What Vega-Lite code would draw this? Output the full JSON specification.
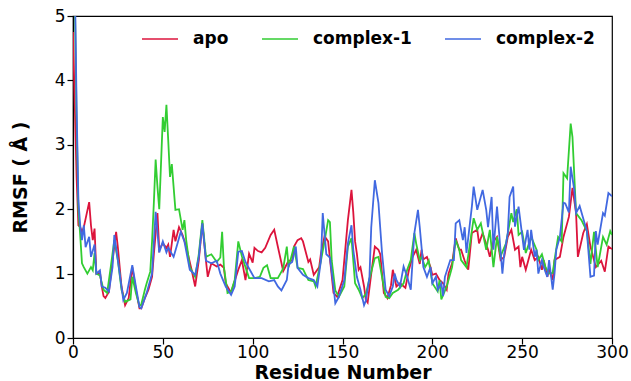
{
  "$schema": "https://vega.github.io/schema/vega-lite/v6.json",
  "width": 539,
  "height": 322,
  "autosize": {"type": "none"},
  "padding": {"left": 73, "top": 16, "right": 19, "bottom": 43},
  "background": "white",
  "config": {"view": {"stroke": "black", "strokeWidth": 1.2}, "font": "DejaVu Sans"},
  "data": {"values": [
{"s":"apo","r":0,"v":4.75},{"s":"apo","r":1,"v":3.6},{"s":"apo","r":2,"v":2.5},{"s":"apo","r":3,"v":1.75},{"s":"apo","r":4,"v":1.72},{"s":"apo","r":5,"v":1.65},{"s":"apo","r":6,"v":1.72},{"s":"apo","r":7,"v":1.85},{"s":"apo","r":9,"v":2.11},{"s":"apo","r":10,"v":1.75},{"s":"apo","r":11,"v":1.52},{"s":"apo","r":12,"v":1.7},{"s":"apo","r":13,"v":1.0},{"s":"apo","r":15,"v":1.02},{"s":"apo","r":16,"v":0.8},{"s":"apo","r":17,"v":0.65},{"s":"apo","r":18,"v":0.62},{"s":"apo","r":20,"v":0.72},{"s":"apo","r":22,"v":1.2},{"s":"apo","r":24,"v":1.65},{"s":"apo","r":25,"v":1.4},{"s":"apo","r":27,"v":0.8},{"s":"apo","r":29,"v":0.51},{"s":"apo","r":31,"v":0.62},{"s":"apo","r":33,"v":1.1},{"s":"apo","r":35,"v":0.75},{"s":"apo","r":37,"v":0.46},{"s":"apo","r":38,"v":0.46},{"s":"apo","r":40,"v":0.62},{"s":"apo","r":42,"v":0.75},{"s":"apo","r":44,"v":0.95},{"s":"apo","r":45,"v":1.3},{"s":"apo","r":47,"v":1.94},{"s":"apo","r":48,"v":1.37},{"s":"apo","r":50,"v":1.47},{"s":"apo","r":52,"v":1.4},{"s":"apo","r":53,"v":1.45},{"s":"apo","r":54,"v":1.26},{"s":"apo","r":56,"v":1.68},{"s":"apo","r":57,"v":1.5},{"s":"apo","r":59,"v":1.72},{"s":"apo","r":61,"v":1.6},{"s":"apo","r":63,"v":1.42},{"s":"apo","r":66,"v":1.06},{"s":"apo","r":68,"v":0.8},{"s":"apo","r":70,"v":1.2},{"s":"apo","r":72,"v":1.78},{"s":"apo","r":74,"v":1.2},{"s":"apo","r":75,"v":0.95},{"s":"apo","r":77,"v":1.16},{"s":"apo","r":80,"v":1.11},{"s":"apo","r":82,"v":1.14},{"s":"apo","r":84,"v":1.09},{"s":"apo","r":85,"v":0.85},{"s":"apo","r":88,"v":0.7},{"s":"apo","r":89,"v":0.8},{"s":"apo","r":92,"v":1.06},{"s":"apo","r":94,"v":1.21},{"s":"apo","r":96,"v":0.9},{"s":"apo","r":98,"v":1.31},{"s":"apo","r":100,"v":1.17},{"s":"apo","r":101,"v":1.4},{"s":"apo","r":103,"v":1.35},{"s":"apo","r":105,"v":1.33},{"s":"apo","r":107,"v":1.4},{"s":"apo","r":110,"v":1.6},{"s":"apo","r":112,"v":1.68},{"s":"apo","r":114,"v":1.42},{"s":"apo","r":117,"v":1.04},{"s":"apo","r":120,"v":1.2},{"s":"apo","r":122,"v":1.2},{"s":"apo","r":123,"v":1.42},{"s":"apo","r":125,"v":1.52},{"s":"apo","r":127,"v":1.55},{"s":"apo","r":128,"v":1.5},{"s":"apo","r":131,"v":1.18},{"s":"apo","r":132,"v":1.22},{"s":"apo","r":134,"v":0.98},{"s":"apo","r":137,"v":1.1},{"s":"apo","r":138,"v":1.31},{"s":"apo","r":140,"v":1.58},{"s":"apo","r":142,"v":1.5},{"s":"apo","r":145,"v":0.7},{"s":"apo","r":147,"v":0.64},{"s":"apo","r":150,"v":0.9},{"s":"apo","r":153,"v":1.83},{"s":"apo","r":155,"v":2.3},{"s":"apo","r":156,"v":1.95},{"s":"apo","r":157,"v":1.5},{"s":"apo","r":158,"v":1.31},{"s":"apo","r":159,"v":1.06},{"s":"apo","r":160,"v":1.1},{"s":"apo","r":162,"v":0.8},{"s":"apo","r":163,"v":0.59},{"s":"apo","r":164,"v":0.55},{"s":"apo","r":166,"v":1.0},{"s":"apo","r":168,"v":1.42},{"s":"apo","r":170,"v":1.37},{"s":"apo","r":171,"v":1.3},{"s":"apo","r":173,"v":0.7},{"s":"apo","r":175,"v":0.62},{"s":"apo","r":177,"v":0.82},{"s":"apo","r":178,"v":1.06},{"s":"apo","r":180,"v":0.8},{"s":"apo","r":182,"v":0.85},{"s":"apo","r":185,"v":0.78},{"s":"apo","r":187,"v":1.06},{"s":"apo","r":189,"v":1.26},{"s":"apo","r":191,"v":1.37},{"s":"apo","r":193,"v":1.15},{"s":"apo","r":194,"v":1.37},{"s":"apo","r":195,"v":1.22},{"s":"apo","r":197,"v":1.26},{"s":"apo","r":199,"v":1.1},{"s":"apo","r":200,"v":0.98},{"s":"apo","r":202,"v":1.0},{"s":"apo","r":204,"v":0.9},{"s":"apo","r":206,"v":0.85},{"s":"apo","r":208,"v":0.75},{"s":"apo","r":209,"v":1.0},{"s":"apo","r":211,"v":1.16},{"s":"apo","r":213,"v":1.55},{"s":"apo","r":215,"v":1.37},{"s":"apo","r":216,"v":1.37},{"s":"apo","r":218,"v":1.2},{"s":"apo","r":220,"v":1.06},{"s":"apo","r":222,"v":1.63},{"s":"apo","r":225,"v":1.68},{"s":"apo","r":226,"v":1.47},{"s":"apo","r":228,"v":1.63},{"s":"apo","r":231,"v":1.37},{"s":"apo","r":232,"v":1.26},{"s":"apo","r":234,"v":1.5},{"s":"apo","r":236,"v":1.57},{"s":"apo","r":238,"v":1.21},{"s":"apo","r":240,"v":1.26},{"s":"apo","r":242,"v":1.57},{"s":"apo","r":244,"v":1.68},{"s":"apo","r":246,"v":1.37},{"s":"apo","r":248,"v":1.42},{"s":"apo","r":249,"v":1.1},{"s":"apo","r":250,"v":1.26},{"s":"apo","r":252,"v":1.06},{"s":"apo","r":255,"v":1.37},{"s":"apo","r":257,"v":1.21},{"s":"apo","r":259,"v":1.26},{"s":"apo","r":261,"v":1.06},{"s":"apo","r":262,"v":1.21},{"s":"apo","r":264,"v":0.95},{"s":"apo","r":265,"v":1.06},{"s":"apo","r":267,"v":0.9},{"s":"apo","r":268,"v":1.21},{"s":"apo","r":271,"v":1.26},{"s":"apo","r":273,"v":1.57},{"s":"apo","r":276,"v":1.88},{"s":"apo","r":278,"v":2.33},{"s":"apo","r":280,"v":1.94},{"s":"apo","r":281,"v":1.26},{"s":"apo","r":284,"v":1.63},{"s":"apo","r":286,"v":1.77},{"s":"apo","r":288,"v":1.42},{"s":"apo","r":291,"v":1.1},{"s":"apo","r":294,"v":1.2},{"s":"apo","r":296,"v":1.03},{"s":"apo","r":298,"v":1.42},{"s":"apo","r":300,"v":1.38},
{"s":"complex-1","r":0,"v":5.8},{"s":"complex-1","r":1,"v":5.3},{"s":"complex-1","r":2,"v":3.4},{"s":"complex-1","r":3,"v":2.0},{"s":"complex-1","r":4,"v":1.6},{"s":"complex-1","r":5,"v":1.16},{"s":"complex-1","r":6,"v":1.1},{"s":"complex-1","r":8,"v":1.0},{"s":"complex-1","r":9,"v":1.05},{"s":"complex-1","r":10,"v":1.1},{"s":"complex-1","r":11,"v":1.05},{"s":"complex-1","r":12,"v":1.32},{"s":"complex-1","r":13,"v":1.0},{"s":"complex-1","r":15,"v":0.97},{"s":"complex-1","r":17,"v":0.75},{"s":"complex-1","r":19,"v":0.7},{"s":"complex-1","r":21,"v":1.1},{"s":"complex-1","r":23,"v":1.52},{"s":"complex-1","r":25,"v":1.2},{"s":"complex-1","r":27,"v":0.75},{"s":"complex-1","r":29,"v":0.56},{"s":"complex-1","r":32,"v":0.6},{"s":"complex-1","r":33,"v":0.95},{"s":"complex-1","r":35,"v":0.7},{"s":"complex-1","r":37,"v":0.5},{"s":"complex-1","r":38,"v":0.52},{"s":"complex-1","r":40,"v":0.75},{"s":"complex-1","r":41,"v":0.85},{"s":"complex-1","r":43,"v":1.03},{"s":"complex-1","r":44,"v":1.5},{"s":"complex-1","r":45,"v":2.1},{"s":"complex-1","r":46,"v":2.77},{"s":"complex-1","r":47,"v":2.35},{"s":"complex-1","r":48,"v":2.0},{"s":"complex-1","r":50,"v":3.43},{"s":"complex-1","r":51,"v":3.2},{"s":"complex-1","r":52,"v":3.62},{"s":"complex-1","r":53,"v":3.07},{"s":"complex-1","r":54,"v":2.5},{"s":"complex-1","r":55,"v":2.7},{"s":"complex-1","r":57,"v":1.99},{"s":"complex-1","r":59,"v":2.0},{"s":"complex-1","r":61,"v":1.68},{"s":"complex-1","r":62,"v":1.83},{"s":"complex-1","r":63,"v":1.52},{"s":"complex-1","r":65,"v":1.1},{"s":"complex-1","r":68,"v":0.95},{"s":"complex-1","r":70,"v":1.3},{"s":"complex-1","r":72,"v":1.83},{"s":"complex-1","r":74,"v":1.26},{"s":"complex-1","r":77,"v":1.3},{"s":"complex-1","r":80,"v":1.18},{"s":"complex-1","r":82,"v":1.25},{"s":"complex-1","r":83,"v":1.65},{"s":"complex-1","r":84,"v":1.1},{"s":"complex-1","r":86,"v":0.7},{"s":"complex-1","r":88,"v":0.72},{"s":"complex-1","r":90,"v":0.9},{"s":"complex-1","r":92,"v":1.5},{"s":"complex-1","r":94,"v":1.27},{"s":"complex-1","r":98,"v":0.93},{"s":"complex-1","r":101,"v":0.93},{"s":"complex-1","r":104,"v":0.95},{"s":"complex-1","r":106,"v":1.09},{"s":"complex-1","r":108,"v":1.13},{"s":"complex-1","r":110,"v":0.93},{"s":"complex-1","r":114,"v":0.93},{"s":"complex-1","r":117,"v":1.08},{"s":"complex-1","r":119,"v":1.42},{"s":"complex-1","r":120,"v":1.1},{"s":"complex-1","r":123,"v":1.42},{"s":"complex-1","r":125,"v":1.09},{"s":"complex-1","r":128,"v":1.07},{"s":"complex-1","r":131,"v":0.9},{"s":"complex-1","r":134,"v":0.88},{"s":"complex-1","r":135,"v":0.8},{"s":"complex-1","r":138,"v":1.2},{"s":"complex-1","r":140,"v":1.5},{"s":"complex-1","r":142,"v":1.83},{"s":"complex-1","r":143,"v":1.8},{"s":"complex-1","r":144,"v":1.2},{"s":"complex-1","r":146,"v":0.74},{"s":"complex-1","r":148,"v":0.64},{"s":"complex-1","r":151,"v":0.8},{"s":"complex-1","r":153,"v":1.42},{"s":"complex-1","r":155,"v":1.55},{"s":"complex-1","r":157,"v":0.85},{"s":"complex-1","r":159,"v":0.75},{"s":"complex-1","r":161,"v":0.62},{"s":"complex-1","r":163,"v":0.68},{"s":"complex-1","r":165,"v":0.92},{"s":"complex-1","r":168,"v":1.24},{"s":"complex-1","r":170,"v":1.26},{"s":"complex-1","r":172,"v":0.95},{"s":"complex-1","r":174,"v":0.64},{"s":"complex-1","r":176,"v":0.62},{"s":"complex-1","r":178,"v":0.7},{"s":"complex-1","r":181,"v":0.75},{"s":"complex-1","r":184,"v":0.85},{"s":"complex-1","r":186,"v":1.06},{"s":"complex-1","r":188,"v":1.21},{"s":"complex-1","r":190,"v":1.63},{"s":"complex-1","r":191,"v":1.47},{"s":"complex-1","r":193,"v":1.21},{"s":"complex-1","r":194,"v":1.26},{"s":"complex-1","r":196,"v":1.1},{"s":"complex-1","r":198,"v":1.2},{"s":"complex-1","r":200,"v":0.85},{"s":"complex-1","r":203,"v":0.72},{"s":"complex-1","r":204,"v":0.9},{"s":"complex-1","r":205,"v":0.6},{"s":"complex-1","r":208,"v":0.8},{"s":"complex-1","r":211,"v":1.1},{"s":"complex-1","r":213,"v":1.52},{"s":"complex-1","r":215,"v":1.37},{"s":"complex-1","r":216,"v":1.21},{"s":"complex-1","r":219,"v":1.1},{"s":"complex-1","r":221,"v":1.47},{"s":"complex-1","r":223,"v":1.86},{"s":"complex-1","r":225,"v":1.68},{"s":"complex-1","r":227,"v":1.78},{"s":"complex-1","r":230,"v":1.37},{"s":"complex-1","r":232,"v":1.68},{"s":"complex-1","r":234,"v":1.1},{"s":"complex-1","r":236,"v":1.57},{"s":"complex-1","r":238,"v":1.27},{"s":"complex-1","r":241,"v":1.47},{"s":"complex-1","r":244,"v":1.94},{"s":"complex-1","r":245,"v":1.8},{"s":"complex-1","r":247,"v":2.0},{"s":"complex-1","r":248,"v":1.6},{"s":"complex-1","r":250,"v":1.65},{"s":"complex-1","r":252,"v":1.32},{"s":"complex-1","r":255,"v":1.57},{"s":"complex-1","r":258,"v":1.37},{"s":"complex-1","r":259,"v":1.21},{"s":"complex-1","r":261,"v":1.3},{"s":"complex-1","r":263,"v":1.1},{"s":"complex-1","r":265,"v":1.0},{"s":"complex-1","r":267,"v":1.01},{"s":"complex-1","r":268,"v":1.21},{"s":"complex-1","r":270,"v":1.57},{"s":"complex-1","r":272,"v":1.5},{"s":"complex-1","r":273,"v":2.56},{"s":"complex-1","r":275,"v":2.48},{"s":"complex-1","r":277,"v":3.33},{"s":"complex-1","r":278,"v":3.12},{"s":"complex-1","r":280,"v":1.94},{"s":"complex-1","r":283,"v":1.83},{"s":"complex-1","r":286,"v":1.66},{"s":"complex-1","r":288,"v":1.15},{"s":"complex-1","r":290,"v":1.65},{"s":"complex-1","r":292,"v":1.1},{"s":"complex-1","r":295,"v":1.57},{"s":"complex-1","r":297,"v":1.45},{"s":"complex-1","r":299,"v":1.66},{"s":"complex-1","r":300,"v":1.6},
{"s":"complex-2","r":0,"v":6.0},{"s":"complex-2","r":1,"v":5.6},{"s":"complex-2","r":2,"v":3.6},{"s":"complex-2","r":3,"v":2.14},{"s":"complex-2","r":4,"v":1.75},{"s":"complex-2","r":5,"v":1.52},{"s":"complex-2","r":6,"v":1.75},{"s":"complex-2","r":7,"v":1.41},{"s":"complex-2","r":9,"v":1.57},{"s":"complex-2","r":10,"v":1.26},{"s":"complex-2","r":12,"v":1.45},{"s":"complex-2","r":13,"v":1.0},{"s":"complex-2","r":15,"v":1.05},{"s":"complex-2","r":16,"v":0.8},{"s":"complex-2","r":18,"v":0.78},{"s":"complex-2","r":20,"v":0.72},{"s":"complex-2","r":22,"v":1.1},{"s":"complex-2","r":23,"v":1.6},{"s":"complex-2","r":25,"v":1.2},{"s":"complex-2","r":28,"v":0.59},{"s":"complex-2","r":30,"v":0.7},{"s":"complex-2","r":33,"v":1.13},{"s":"complex-2","r":35,"v":0.8},{"s":"complex-2","r":37,"v":0.48},{"s":"complex-2","r":38,"v":0.46},{"s":"complex-2","r":41,"v":0.7},{"s":"complex-2","r":44,"v":1.0},{"s":"complex-2","r":46,"v":1.96},{"s":"complex-2","r":48,"v":1.33},{"s":"complex-2","r":50,"v":1.5},{"s":"complex-2","r":52,"v":1.33},{"s":"complex-2","r":53,"v":1.4},{"s":"complex-2","r":56,"v":1.26},{"s":"complex-2","r":58,"v":1.45},{"s":"complex-2","r":60,"v":1.65},{"s":"complex-2","r":62,"v":1.5},{"s":"complex-2","r":65,"v":1.06},{"s":"complex-2","r":68,"v":0.98},{"s":"complex-2","r":70,"v":1.25},{"s":"complex-2","r":72,"v":1.78},{"s":"complex-2","r":74,"v":1.2},{"s":"complex-2","r":77,"v":1.16},{"s":"complex-2","r":80,"v":1.2},{"s":"complex-2","r":82,"v":1.0},{"s":"complex-2","r":85,"v":0.8},{"s":"complex-2","r":88,"v":0.67},{"s":"complex-2","r":90,"v":0.8},{"s":"complex-2","r":92,"v":1.34},{"s":"complex-2","r":94,"v":1.35},{"s":"complex-2","r":96,"v":1.18},{"s":"complex-2","r":98,"v":1.08},{"s":"complex-2","r":101,"v":0.93},{"s":"complex-2","r":105,"v":0.93},{"s":"complex-2","r":109,"v":0.88},{"s":"complex-2","r":112,"v":0.9},{"s":"complex-2","r":114,"v":0.8},{"s":"complex-2","r":116,"v":0.74},{"s":"complex-2","r":119,"v":0.9},{"s":"complex-2","r":120,"v":1.14},{"s":"complex-2","r":122,"v":1.18},{"s":"complex-2","r":124,"v":1.42},{"s":"complex-2","r":125,"v":1.09},{"s":"complex-2","r":128,"v":0.98},{"s":"complex-2","r":131,"v":0.93},{"s":"complex-2","r":134,"v":0.9},{"s":"complex-2","r":136,"v":0.8},{"s":"complex-2","r":138,"v":1.2},{"s":"complex-2","r":139,"v":1.94},{"s":"complex-2","r":141,"v":1.3},{"s":"complex-2","r":143,"v":1.25},{"s":"complex-2","r":145,"v":0.8},{"s":"complex-2","r":146,"v":0.54},{"s":"complex-2","r":148,"v":0.64},{"s":"complex-2","r":151,"v":0.9},{"s":"complex-2","r":153,"v":1.47},{"s":"complex-2","r":155,"v":1.75},{"s":"complex-2","r":156,"v":1.37},{"s":"complex-2","r":158,"v":0.95},{"s":"complex-2","r":160,"v":0.75},{"s":"complex-2","r":162,"v":0.51},{"s":"complex-2","r":163,"v":0.58},{"s":"complex-2","r":165,"v":0.95},{"s":"complex-2","r":166,"v":1.72},{"s":"complex-2","r":168,"v":2.45},{"s":"complex-2","r":170,"v":2.1},{"s":"complex-2","r":172,"v":1.32},{"s":"complex-2","r":174,"v":0.75},{"s":"complex-2","r":176,"v":0.65},{"s":"complex-2","r":178,"v":0.8},{"s":"complex-2","r":179,"v":1.0},{"s":"complex-2","r":180,"v":0.9},{"s":"complex-2","r":182,"v":0.8},{"s":"complex-2","r":184,"v":1.11},{"s":"complex-2","r":186,"v":0.95},{"s":"complex-2","r":188,"v":0.75},{"s":"complex-2","r":189,"v":1.2},{"s":"complex-2","r":190,"v":1.63},{"s":"complex-2","r":192,"v":1.99},{"s":"complex-2","r":193,"v":1.72},{"s":"complex-2","r":195,"v":1.1},{"s":"complex-2","r":197,"v":0.95},{"s":"complex-2","r":199,"v":1.1},{"s":"complex-2","r":200,"v":0.85},{"s":"complex-2","r":202,"v":0.95},{"s":"complex-2","r":203,"v":0.75},{"s":"complex-2","r":205,"v":0.85},{"s":"complex-2","r":206,"v":0.65},{"s":"complex-2","r":207,"v":0.95},{"s":"complex-2","r":210,"v":1.21},{"s":"complex-2","r":212,"v":1.21},{"s":"complex-2","r":213,"v":1.78},{"s":"complex-2","r":215,"v":1.83},{"s":"complex-2","r":217,"v":1.52},{"s":"complex-2","r":218,"v":1.72},{"s":"complex-2","r":219,"v":1.32},{"s":"complex-2","r":222,"v":2.04},{"s":"complex-2","r":223,"v":2.35},{"s":"complex-2","r":225,"v":1.99},{"s":"complex-2","r":228,"v":2.3},{"s":"complex-2","r":230,"v":1.99},{"s":"complex-2","r":231,"v":1.72},{"s":"complex-2","r":233,"v":2.19},{"s":"complex-2","r":234,"v":1.37},{"s":"complex-2","r":236,"v":2.04},{"s":"complex-2","r":239,"v":1.0},{"s":"complex-2","r":240,"v":1.3},{"s":"complex-2","r":242,"v":1.63},{"s":"complex-2","r":243,"v":2.19},{"s":"complex-2","r":245,"v":2.35},{"s":"complex-2","r":246,"v":1.73},{"s":"complex-2","r":248,"v":2.04},{"s":"complex-2","r":251,"v":1.37},{"s":"complex-2","r":253,"v":1.68},{"s":"complex-2","r":254,"v":1.37},{"s":"complex-2","r":255,"v":1.68},{"s":"complex-2","r":257,"v":1.26},{"s":"complex-2","r":258,"v":1.37},{"s":"complex-2","r":259,"v":1.0},{"s":"complex-2","r":261,"v":1.21},{"s":"complex-2","r":262,"v":1.1},{"s":"complex-2","r":264,"v":0.95},{"s":"complex-2","r":265,"v":1.21},{"s":"complex-2","r":267,"v":0.75},{"s":"complex-2","r":268,"v":1.0},{"s":"complex-2","r":269,"v":1.37},{"s":"complex-2","r":271,"v":1.57},{"s":"complex-2","r":273,"v":2.1},{"s":"complex-2","r":274,"v":2.09},{"s":"complex-2","r":276,"v":1.95},{"s":"complex-2","r":277,"v":2.66},{"s":"complex-2","r":279,"v":2.3},{"s":"complex-2","r":280,"v":1.94},{"s":"complex-2","r":282,"v":2.05},{"s":"complex-2","r":285,"v":1.76},{"s":"complex-2","r":286,"v":1.66},{"s":"complex-2","r":288,"v":0.95},{"s":"complex-2","r":290,"v":0.97},{"s":"complex-2","r":291,"v":1.66},{"s":"complex-2","r":292,"v":1.45},{"s":"complex-2","r":295,"v":1.94},{"s":"complex-2","r":296,"v":1.9},{"s":"complex-2","r":298,"v":2.25},{"s":"complex-2","r":300,"v":2.2}
  ]},
  "mark": {"type": "line", "strokeWidth": 1.8, "clip": true},
  "encoding": {
    "x": {
      "field": "r", "type": "quantitative",
      "scale": {"domain": [0, 300], "nice": false, "zero": false},
      "axis": {
        "title": "Residue Number", "values": [0, 50, 100, 150, 200, 250, 300], "grid": false,
        "labelFontSize": 17, "labelColor": "black", "labelPadding": 0, "labelFlush": false,
        "titleFontSize": 19, "titleFontWeight": "bold", "titleColor": "black", "titlePadding": 3,
        "domainColor": "black", "domainWidth": 1.2, "tickColor": "black", "tickSize": 6, "tickWidth": 1.2
      }
    },
    "y": {
      "field": "v", "type": "quantitative",
      "scale": {"domain": [0, 5], "nice": false},
      "axis": {
        "title": "RMSF ( Å )", "values": [0, 1, 2, 3, 4, 5], "grid": false,
        "labelFontSize": 17, "labelColor": "black", "labelPadding": 2, "labelFlush": false,
        "titleFontSize": 19, "titleFontWeight": "bold", "titleColor": "black", "titlePadding": 24,
        "domainColor": "black", "domainWidth": 1.2, "tickColor": "black", "tickSize": 6, "tickWidth": 1.2
      }
    },
    "color": {
      "field": "s", "type": "nominal",
      "scale": {"domain": ["apo", "complex-1", "complex-2"], "range": ["#dc143c", "#32cd32", "#4169e1"]},
      "legend": {
        "title": null, "orient": "none", "legendX": 68, "legendY": 4, "direction": "horizontal",
        "symbolType": "stroke", "symbolSize": 1296, "symbolStrokeWidth": 1.5,
        "labelFontSize": 17, "labelFontWeight": "bold", "labelColor": "black", "labelOffset": 14,
        "columnPadding": 30
      }
    }
  }
}
